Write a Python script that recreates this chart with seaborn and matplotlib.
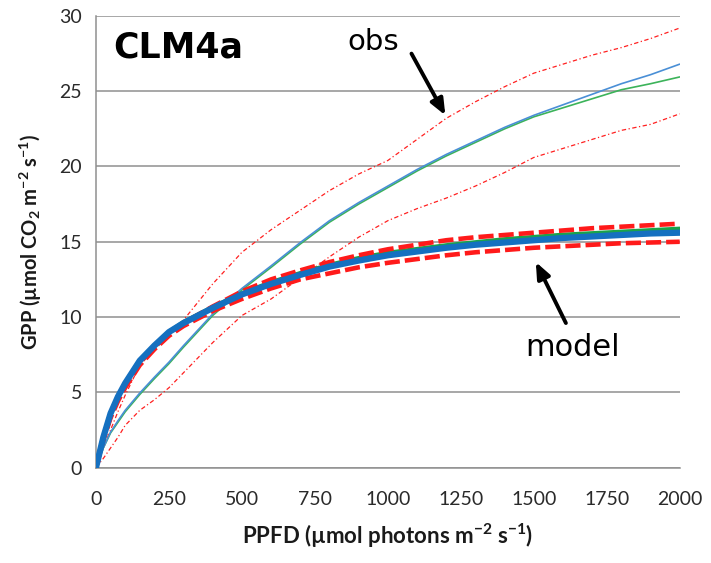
import numpy as np
import pandas as pd
import matplotlib
matplotlib.use("Agg")
import matplotlib.pyplot as plt
import seaborn as sns

# ---------------- data ----------------
ppfd = [0, 25, 50, 75, 100, 150, 200, 250, 300, 400, 500, 600, 700, 800, 900, 1000,
        1100, 1200, 1300, 1400, 1500, 1600, 1700, 1800, 1900, 2000]

model_blue = [0, 2.0, 3.6, 4.7, 5.6, 7.1, 8.1, 9.0, 9.6, 10.6, 11.5, 12.2, 12.8, 13.35, 13.75,
              14.1, 14.35, 14.6, 14.8, 14.95, 15.1, 15.25, 15.35, 15.45, 15.55, 15.6]
model_green = [0, 2.0, 3.6, 4.7, 5.6, 7.1, 8.1, 9.0, 9.65, 10.65, 11.55, 12.3, 12.9, 13.45, 13.9,
               14.25, 14.5, 14.75, 14.95, 15.15, 15.3, 15.45, 15.55, 15.65, 15.75, 15.85]
model_upper = [0, 1.9, 3.4, 4.6, 5.5, 7.0, 8.0, 8.9, 9.6, 10.7, 11.7, 12.5, 13.1, 13.65, 14.1,
               14.5, 14.8, 15.1, 15.3, 15.45, 15.6, 15.75, 15.9, 16.0, 16.1, 16.2]
model_lower = [0, 1.8, 3.3, 4.4, 5.3, 6.8, 7.85, 8.75, 9.4, 10.4, 11.2, 11.9, 12.5, 12.9, 13.3,
               13.6, 13.85, 14.1, 14.3, 14.45, 14.6, 14.7, 14.8, 14.9, 14.95, 15.0]

obs_blue = [0, 1.3, 2.35, 3.1, 3.8, 4.95, 6.0, 7.0, 8.1, 10.2, 11.9, 13.4, 14.95, 16.4, 17.6,
            18.7, 19.8, 20.8, 21.7, 22.6, 23.4, 24.1, 24.8, 25.5, 26.1, 26.8]
obs_green = [0, 1.3, 2.3, 3.0, 3.7, 4.85, 5.9, 6.9, 8.0, 10.1, 11.8, 13.3, 14.85, 16.3, 17.5,
             18.6, 19.7, 20.7, 21.6, 22.5, 23.3, 23.9, 24.5, 25.1, 25.5, 25.95]
obs_upper = [0, 1.3, 2.5, 3.7, 4.8, 6.8, 7.8, 8.8, 9.8, 12.2, 14.3, 15.8, 17.1, 18.4, 19.5,
             20.4, 21.8, 23.2, 24.3, 25.3, 26.2, 26.8, 27.4, 27.9, 28.5, 29.2]
obs_lower = [0, 0.6, 1.3, 2.0, 2.8, 3.8, 4.5, 5.3, 6.3, 8.3, 10.1, 11.2, 12.6, 14.0, 15.3,
             16.4, 17.2, 17.9, 18.7, 19.6, 20.6, 21.2, 21.8, 22.4, 22.8, 23.5]

x_ticks = [0, 250, 500, 750, 1000, 1250, 1500, 1750, 2000]
y_ticks = [0, 5, 10, 15, 20, 25, 30]

# ---------------- style ----------------
sns.set_theme(style="white")
plt.rcParams["font.family"] = ["Lato", "DejaVu Sans"]
plt.rcParams["mathtext.fontset"] = "custom"
plt.rcParams["mathtext.rm"] = "Lato"
plt.rcParams["mathtext.bf"] = "Lato:bold"

fig = plt.figure(figsize=(7.11, 5.63), dpi=100)
ax = fig.add_axes([0.135, 0.1696, 0.821, 0.802])

df = pd.DataFrame({"ppfd": ppfd})

def draw(y, color, lw, dashes=None, z=2):
    sns.lineplot(x=df["ppfd"], y=y, ax=ax, color=color, linewidth=lw, zorder=z,
                 estimator=None, sort=False)
    line = ax.get_lines()[-1]
    if dashes is not None:
        line.set_dashes(dashes)
    line.set_solid_capstyle("round")
    line.set_solid_joinstyle("round")

# observations (thin)
draw(obs_upper, "#ff2020", 0.9, dashes=(3.5, 2, 1, 2), z=3)
draw(obs_lower, "#ff2020", 0.9, dashes=(3.5, 2, 1, 2), z=3)
draw(obs_green, "#3cb35a", 1.2, z=3)
draw(obs_blue, "#4a8fd6", 1.2, z=3)
# model (thick)
draw(model_green, "#1aa34a", 3.4, z=4)
draw(model_upper, "#ff1a1a", 3.3, dashes=(3.3, 1.1), z=4)
draw(model_lower, "#ff1a1a", 3.3, dashes=(3.3, 1.1), z=4)
draw(model_blue, "#1570c0", 4.5, z=5)

ax.set_xlim(0, 2000)
ax.set_ylim(0, 30)
ax.set_xticks(x_ticks)
ax.set_yticks(y_ticks)
ax.set_xticklabels([str(t) for t in x_ticks])
ax.set_yticklabels([str(t) for t in y_ticks])

grid_c = "#8f8f8f"
ax.yaxis.grid(True, color=grid_c, linewidth=1.1, zorder=0)
ax.xaxis.grid(False)
ax.set_axisbelow(True)
for s in ["top", "right"]:
    ax.spines[s].set_visible(False)
for s in ["left", "bottom"]:
    ax.spines[s].set_color(grid_c)
    ax.spines[s].set_linewidth(1.1)
ax.tick_params(axis="both", which="major", direction="out", length=6, width=1.1,
               color=grid_c, labelsize=14, labelcolor="#2a2a2a")
ax.tick_params(axis="x", pad=11)
ax.tick_params(axis="y", pad=4)

ax.set_xlabel(r"PPFD (µmol photons m$^{\mathbf{-2}}$ s$^{\mathbf{-1}}$)",
              fontsize=16, fontweight="bold", color="#1a1a1a", labelpad=10)
ax.set_ylabel(r"GPP (µmol CO$_{\mathbf{2}}$ m$^{\mathbf{-2}}$ s$^{\mathbf{-1}}$)",
              fontsize=14.5, fontweight="bold", color="#1a1a1a", labelpad=11)

# annotations
ax.text(60, 27.9, "CLM4a", fontsize=25, fontweight="bold", ha="left", va="center",
        color="black", family=["DejaVu Sans"])
ax.text(951, 28.3, "obs", fontsize=21, ha="center", va="center", color="black",
        family=["DejaVu Sans"])
ax.text(1634, 8.0, "model", fontsize=22, ha="center", va="center", color="black",
        family=["DejaVu Sans"])
ax.annotate("", xy=(1197, 23.4), xytext=(1081, 27.5),
            arrowprops=dict(arrowstyle="-|>,head_length=0.6,head_width=0.25",
                            color="black", lw=2.8,
                            mutation_scale=16, shrinkA=0, shrinkB=0), zorder=6)
ax.annotate("", xy=(1507, 13.65), xytext=(1610, 9.6),
            arrowprops=dict(arrowstyle="-|>,head_length=0.6,head_width=0.25",
                            color="black", lw=2.8,
                            mutation_scale=16, shrinkA=0, shrinkB=0), zorder=6)

fig.savefig("out.png", dpi=100)
